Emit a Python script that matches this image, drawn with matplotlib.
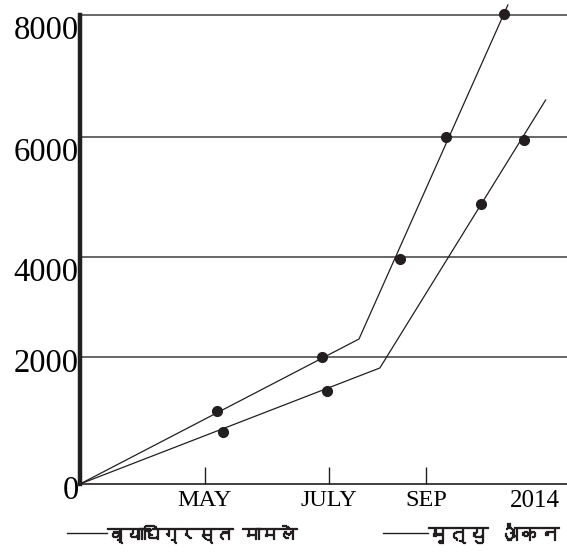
import numpy as np
import matplotlib
matplotlib.use("Agg")
import matplotlib.pyplot as plt
import matplotlib.patheffects as pe
from matplotlib import font_manager
from matplotlib.ft2font import FT2Font
from matplotlib.lines import Line2D
from matplotlib.transforms import ScaledTranslation

# data (x in months, origin = March)
cases_line_x = [3, 7.62, 10.69]
cases_line_y = [0, 2360, 8164]
cases_dot_x = [5.19, 6.89, 8.46, 9.41, 10.61]
cases_dot_y = [1150, 2000, 3960, 6000, 8016]

deaths_line_x = [3, 8.05, 11.47]
deaths_line_y = [0, 1827, 6607]
deaths_dot_x = [5.29, 6.97, 10.13, 11.02]
deaths_dot_y = [819, 1465, 4883, 5950]

month_ticks = [5, 7, 9]
month_labels = ["MAY", "JULY", "SEP"]
year_tick = 11.25
year_label = "2014"
y_ticks = [0, 2000, 4000, 6000, 8000]
legend_labels = ["व्याधिग्रस्त मामले", "मृत्यु अंकन"]

# the hand drawn axes are not evenly spaced -> piecewise linear scales
y_knots = [-2000, 0, 2000, 4000, 6000, 8000, 10000]
y_pos = [-127, 0, 127, 227, 347, 469, 591]
x_knots = [1, 3, 5, 7, 9, 13]
x_pos = [-125, 0, 125, 249, 346, 540]


def piecewise(vals, pos):
    return (lambda v: np.interp(v, vals, pos),
            lambda p: np.interp(p, pos, vals))


# find a font that has devanagari
deva = None
for f in font_manager.fontManager.ttflist:
    try:
        if FT2Font(f.fname).get_char_index(0x0915):
            deva = f.name
            break
    except Exception:
        pass
deva_family = [deva, "DejaVu Sans"] if deva else ["DejaVu Sans"]

ink = "#231f20"
serif = "Liberation Serif"

fig = plt.figure(figsize=(5.67, 5.53), dpi=100)
ax = fig.add_axes([80 / 567, 69 / 553, 487 / 567, 484 / 553])
ax.set_xscale("function", functions=piecewise(x_knots, x_pos))
ax.set_yscale("function", functions=piecewise(y_knots, y_pos))

ax.plot(cases_line_x, cases_line_y, color=ink, lw=0.9)
ax.plot(deaths_line_x, deaths_line_y, color=ink, lw=0.9)
ax.plot(cases_dot_x, cases_dot_y, "o", color=ink, ms=7)
ax.plot(deaths_dot_x, deaths_dot_y, "o", color=ink, ms=7)

for v in y_ticks[1:]:
    ax.axhline(v, color="#4d4d4d", lw=1.2, zorder=0)

ax.set_xlim(3, 11.91)
ax.set_ylim(0, 8246)

for s in ["top", "right"]:
    ax.spines[s].set_visible(False)
ax.spines["left"].set_linewidth(3.2)
ax.spines["left"].set_color(ink)
ax.spines["left"].set_bounds(0, 8000)
ax.spines["bottom"].set_linewidth(1.2)
ax.spines["bottom"].set_color(ink)

ax.set_xticks(month_ticks)
ax.set_xticklabels(month_labels, fontfamily=serif, fontsize=17.5)
ax.set_xticks([year_tick], minor=True)
ax.set_xticklabels([year_label], minor=True, fontfamily=serif, fontsize=18)
ax.tick_params(axis="x", which="major", direction="in", length=12,
               width=1, color=ink, pad=4)
ax.tick_params(axis="x", which="minor", length=0, pad=4)

ax.set_yticks(y_ticks)
ax.set_yticklabels([str(v) for v in y_ticks], fontfamily=serif, fontsize=23.5)
ax.tick_params(axis="y", length=0, pad=1)
for tick, v in zip(ax.yaxis.get_major_ticks(), y_ticks):
    lab = tick.label1
    if v in (0, 2000):
        lab.set_va("center")
        lab.set_transform(lab.get_transform() +
                          ScaledTranslation(0, -5 / 72, fig.dpi_scale_trans))
    else:
        lab.set_va("top")

# legend drawn under the axis (stroke fakes the bold face)
bold = [pe.withStroke(linewidth=0.9, foreground=ink)]
fig.add_artist(Line2D([67 / 567, 107 / 567], [20 / 553, 20 / 553],
                      color=ink, lw=1.0))
fig.text(107 / 567, 20 / 553, legend_labels[0], family=deva_family,
         fontsize=13, fontweight="bold", va="center", ha="left", color=ink,
         path_effects=bold)
fig.add_artist(Line2D([383 / 567, 428 / 567], [20 / 553, 20 / 553],
                      color=ink, lw=1.0))
fig.text(428 / 567, 20 / 553, legend_labels[1], family=deva_family,
         fontsize=14.5, fontweight="bold", va="center", ha="left", color=ink,
         path_effects=bold)

fig.savefig("out.png", dpi=100)
